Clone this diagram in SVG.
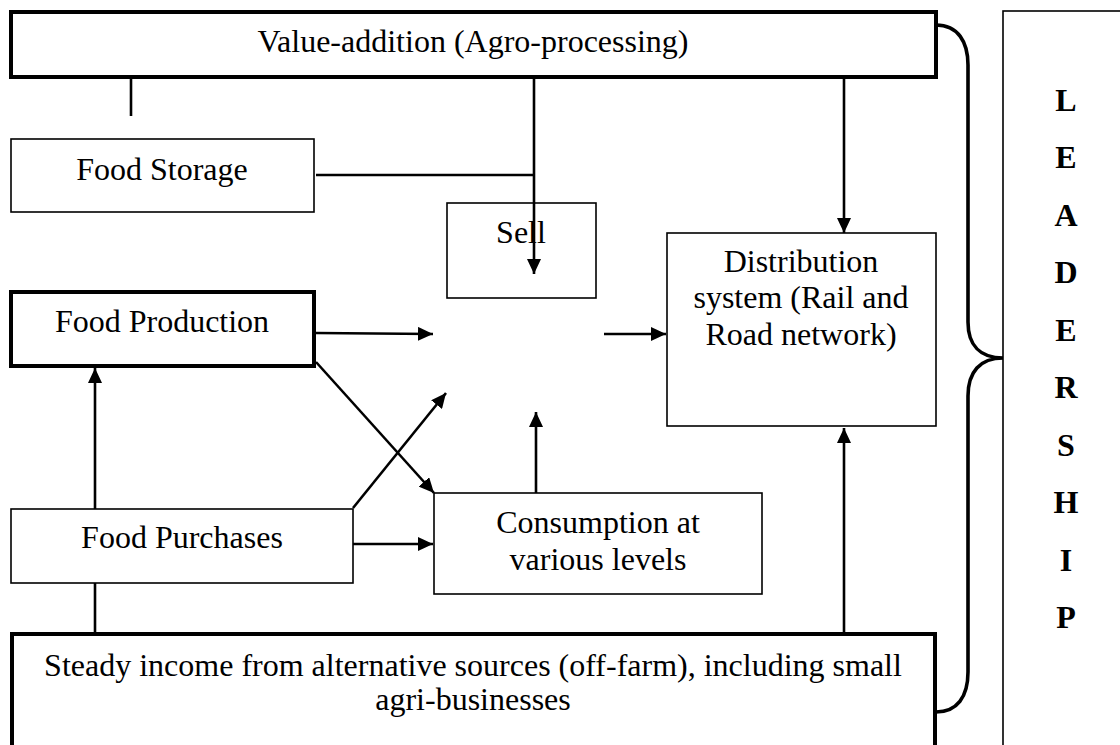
<svg xmlns="http://www.w3.org/2000/svg" width="1120" height="745" viewBox="0 0 1120 745">
<style>
  .t { font-family: "Liberation Serif", "Times New Roman", serif; font-size: 32px; fill: #000; text-anchor: middle; }
  .lt { font-family: "Liberation Serif", "Times New Roman", serif; font-size: 32px; font-weight: bold; fill: #000; text-anchor: middle; }
  .thick { fill: #fff; stroke: #000; stroke-width: 4; }
  .thin { fill: #fff; stroke: #000; stroke-width: 1.6; }
  .c { fill: none; stroke: #000; stroke-width: 2.6; }
  .a { fill: none; stroke: #000; stroke-width: 2.6; marker-end: url(#ah); }
  .brace { fill: none; stroke: #000; stroke-width: 3.6; }
</style>
<defs>
  <marker id="ah" markerUnits="userSpaceOnUse" viewBox="0 0 15 14" markerWidth="15" markerHeight="14" refX="15" refY="7" orient="auto">
    <path d="M0,0 L15,7 L0,14 z" fill="#000"/>
  </marker>
</defs>
<rect width="1120" height="745" fill="#fff"/>

<g id="leadership">
  <rect x="1003" y="11" width="200" height="800" class="thin"/>
  <text class="lt" x="1066" y="111">L</text>
  <text class="lt" x="1066" y="168">E</text>
  <text class="lt" x="1066" y="226">A</text>
  <text class="lt" x="1066" y="283">D</text>
  <text class="lt" x="1066" y="341">E</text>
  <text class="lt" x="1066" y="398">R</text>
  <text class="lt" x="1066" y="456">S</text>
  <text class="lt" x="1066" y="513">H</text>
  <text class="lt" x="1066" y="571">I</text>
  <text class="lt" x="1066" y="628">P</text>
</g>

<g id="brace">
  <path class="brace" d="M 936 25 C 958 25 968 42 968 65 L 968 322 C 968 345 980 358 1003 358 C 980 358 968 372 968 396 L 968 672 C 968 697 957 712 936 712"/>
</g>

<g id="value-addition">
  <rect x="11" y="12" width="925" height="65" class="thick"/>
  <text class="t" x="473" y="52">Value-addition (Agro-processing)</text>
</g>

<g id="food-storage">
  <rect x="11" y="139" width="303" height="73" class="thin"/>
  <text class="t" x="162" y="180">Food Storage</text>
</g>

<g id="sell">
  <rect x="447" y="203" width="149" height="95" class="thin"/>
  <text class="t" x="521" y="243">Sell</text>
</g>

<g id="distribution">
  <rect x="667" y="233" width="269" height="193" class="thin"/>
  <text class="t" x="801" y="272">Distribution</text>
  <text class="t" x="801" y="308">system (Rail and</text>
  <text class="t" x="801" y="345">Road network)</text>
</g>

<g id="food-production">
  <rect x="11" y="292" width="303" height="74" class="thick"/>
  <text class="t" x="162" y="332">Food Production</text>
</g>

<g id="food-purchases">
  <rect x="11" y="509" width="342" height="74" class="thin"/>
  <text class="t" x="182" y="548">Food Purchases</text>
</g>

<g id="consumption">
  <rect x="434" y="493" width="328" height="101" class="thin"/>
  <text class="t" x="598" y="533">Consumption at</text>
  <text class="t" x="598" y="570">various levels</text>
</g>

<g id="steady-income">
  <rect x="12" y="634" width="923" height="200" class="thick"/>
  <text class="t" x="473" y="676">Steady income from alternative sources (off-farm), including small</text>
  <text class="t" x="473" y="710">agri-businesses</text>
</g>

<g id="connectors">
  <line class="c" x1="131" y1="79" x2="131" y2="116"/>
  <line class="c" x1="316" y1="175" x2="534" y2="175"/>
  <line class="a" x1="534" y1="79" x2="534" y2="274"/>
  <line class="a" x1="844" y1="79" x2="844" y2="233"/>
  <line class="a" x1="316" y1="333" x2="433" y2="334"/>
  <line class="a" x1="604" y1="334" x2="666" y2="334"/>
  <line class="a" x1="316" y1="362" x2="434" y2="493"/>
  <line class="a" x1="353" y1="508" x2="446" y2="393"/>
  <line class="a" x1="95" y1="509" x2="95" y2="368"/>
  <line class="a" x1="536" y1="493" x2="536" y2="412"/>
  <line class="a" x1="353" y1="544" x2="433" y2="544"/>
  <line class="c" x1="95" y1="583" x2="95" y2="634"/>
  <line class="a" x1="844" y1="632" x2="844" y2="428"/>
</g>
</svg>
